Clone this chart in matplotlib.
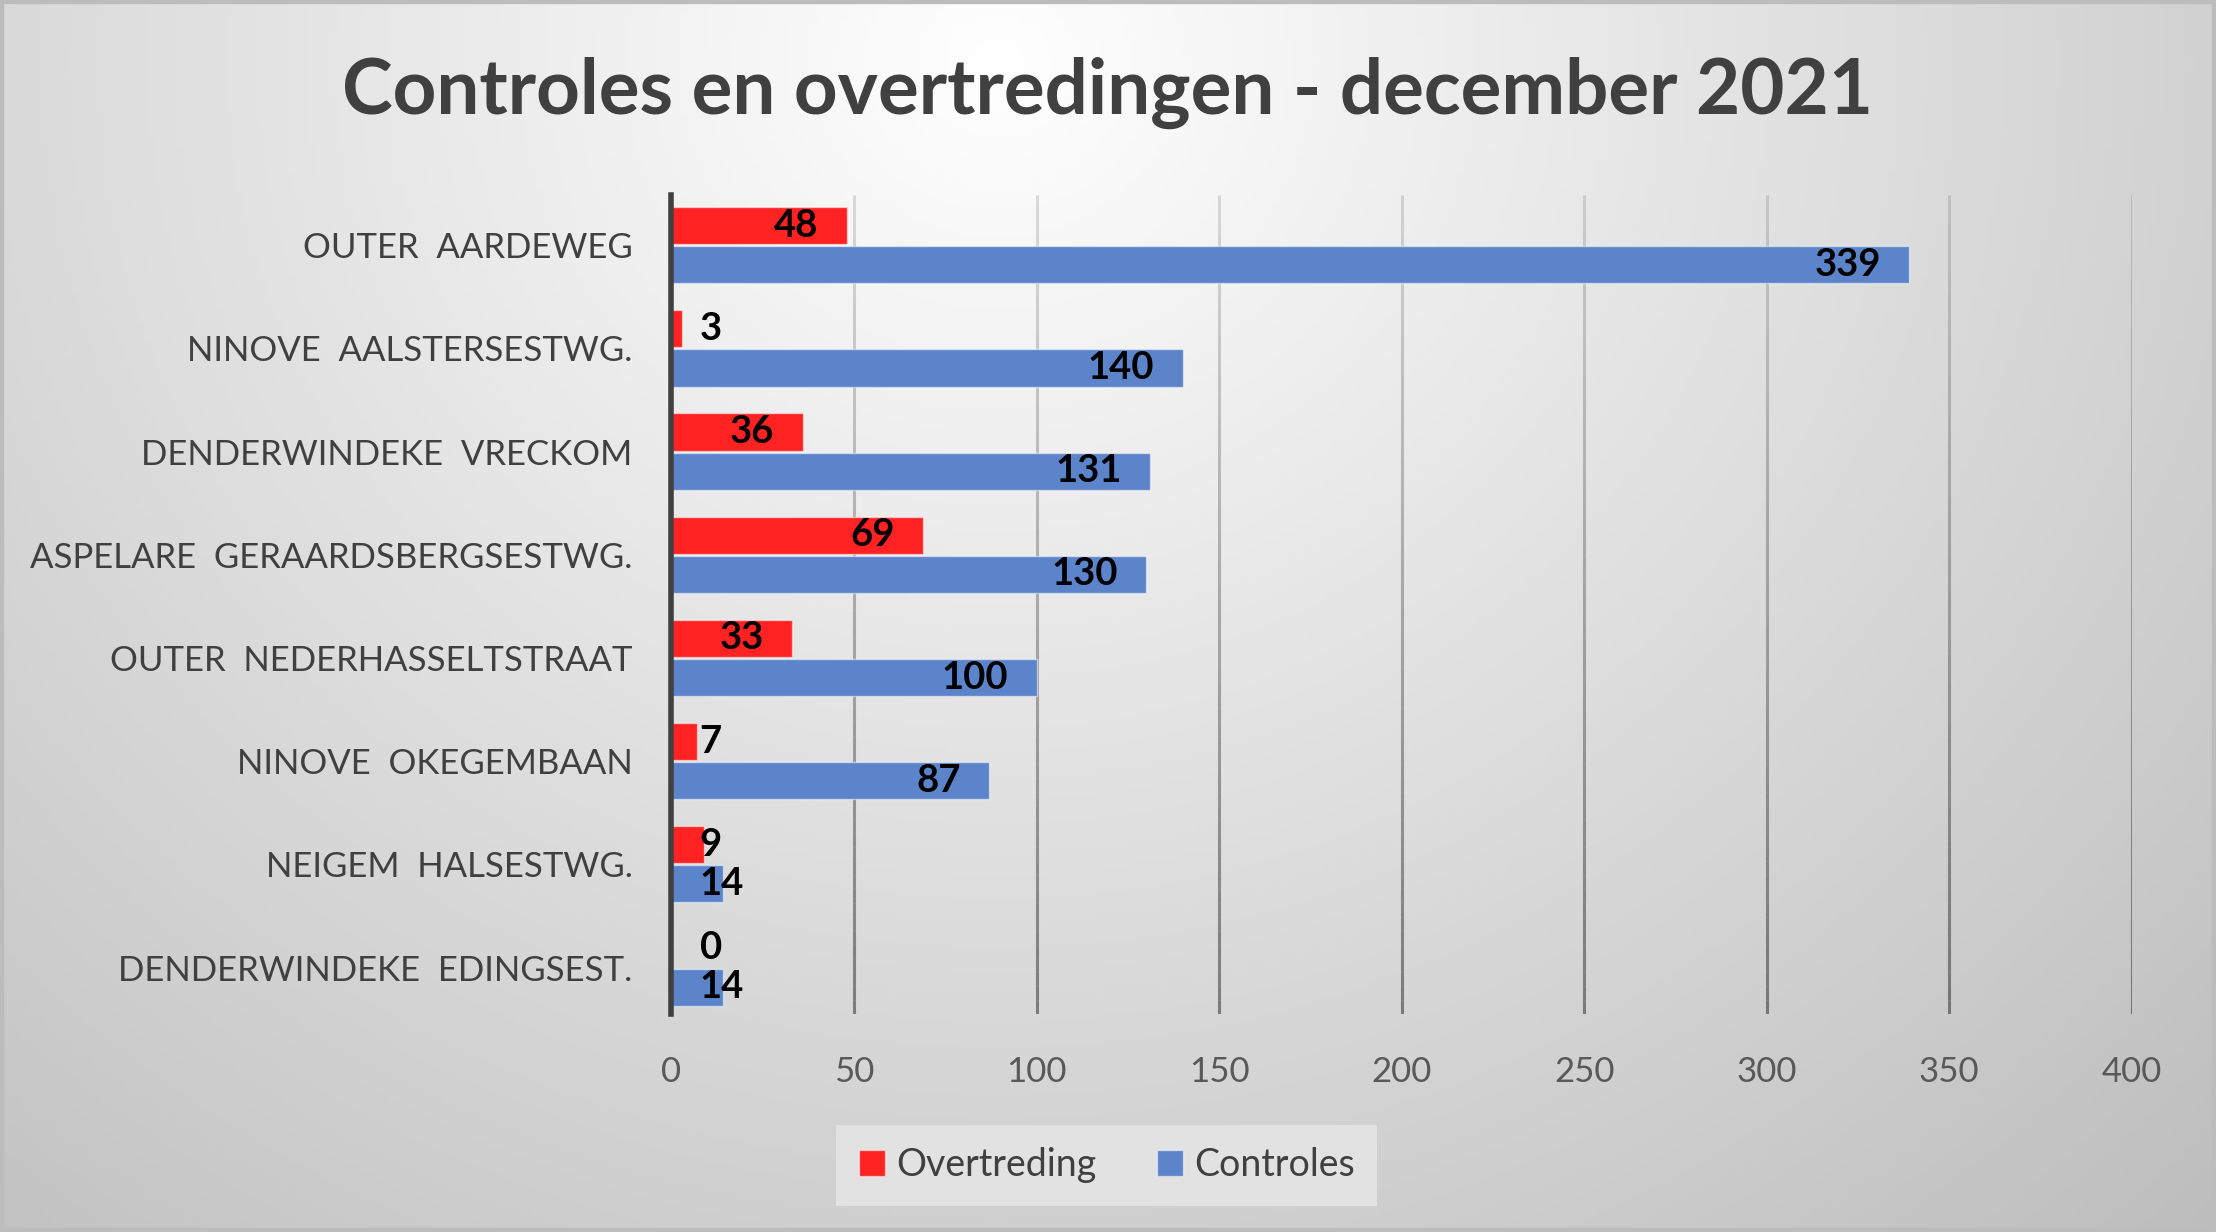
# Controles en overtredingen - december 2021

import numpy as np
import matplotlib
matplotlib.use('Agg')
import matplotlib.pyplot as plt
from matplotlib.collections import LineCollection
from matplotlib.patches import Rectangle

plt.rcParams['font.family'] = ['Lato', 'DejaVu Sans']

# data
locaties = ['OUTER  AARDEWEG', 'NINOVE  AALSTERSESTWG.', 'DENDERWINDEKE  VRECKOM',
            'ASPELARE  GERAARDSBERGSESTWG.', 'OUTER  NEDERHASSELTSTRAAT',
            'NINOVE  OKEGEMBAAN', 'NEIGEM  HALSESTWG.', 'DENDERWINDEKE  EDINGSEST.']
overtreding = [48, 3, 36, 69, 33, 7, 9, 0]
controles = [339, 140, 131, 130, 100, 87, 14, 14]
ticks = [0, 50, 100, 150, 200, 250, 300, 350, 400]

red = '#fe2222'
blue = '#5b84cb'
txt = '#404040'

fig = plt.figure(figsize=(22.16, 12.32), dpi=100)

# background gradient (light top centre, grey edges)
bg = fig.add_axes([0, 0, 1, 1], zorder=-10)
xx, yy = np.meshgrid(np.linspace(0, 1, 400), np.linspace(0, 1, 300))
d = np.sqrt(((xx - 0.45) / 0.6) ** 2 + ((yy - 0.05) / 1.0) ** 2)
g = np.clip(255 - 50 * d, 185, 255) / 255
bg.imshow(np.dstack([g, g, g]), extent=[0, 1, 1, 0], aspect='auto')
bg.set_xlim(0, 1)
bg.set_ylim(1, 0)
bg.axis('off')
bg.add_patch(Rectangle((0, 0), 1, 1, fill=False, edgecolor='#bcbcbc', linewidth=6,
                       transform=bg.transAxes))

ax = fig.add_axes([0.303, 0.177, 0.659, 0.665])
ax.set_facecolor('none')

y = np.arange(len(locaties))
h = 0.36
ax.barh(y - 0.19, overtreding, height=h, color=red, edgecolor=(1, 1, 1, 0.5),
        linewidth=1, label='Overtreding', zorder=3)
ax.barh(y + 0.19, controles, height=h, color=blue, edgecolor=(1, 1, 1, 0.5),
        linewidth=1, label='Controles', zorder=3)

ytop, ybot = -0.49, len(locaties) - 0.55
ax.set_xlim(0, 400)
ax.set_ylim(ybot, ytop)

# gridlines fading towards the top
for t in ticks[1:]:
    ys = np.linspace(ytop, ybot, 60)
    segs = [[(t, ys[i]), (t, ys[i + 1])] for i in range(len(ys) - 1)]
    alphas = np.linspace(0.12, 0.42, len(segs))
    cols = [(0, 0, 0, a) for a in alphas]
    ax.add_collection(LineCollection(segs, colors=cols, linewidths=2.2, zorder=1))

# data labels
pad = 7.75
for vals, off in [(overtreding, -0.19), (controles, 0.19)]:
    for i, v in enumerate(vals):
        if v < 26:
            ax.text(pad, i + off, str(v), ha='left', va='center', fontsize=27.5,
                    fontweight='bold', color='black', zorder=5)
        else:
            ax.text(v - pad, i + off, str(v), ha='right', va='center', fontsize=27.5,
                    fontweight='bold', color='black', zorder=5)

for s in ['top', 'right', 'bottom']:
    ax.spines[s].set_visible(False)
ax.spines['left'].set_color(txt)
ax.spines['left'].set_linewidth(4)
ax.spines['left'].set_zorder(6)

ax.set_xticks(ticks)
ax.set_xticklabels([str(t) for t in ticks], fontsize=25, color='#595959')
ax.set_yticks(y)
ax.set_yticklabels(locaties, fontsize=25, color=txt)
ax.tick_params(axis='x', length=0, pad=30)
ax.tick_params(axis='y', length=0, pad=28)

fig.text(0.5, 0.925, 'Controles en overtredingen - december 2021', ha='center',
         va='center', fontsize=55, fontweight='bold', color=txt)

leg = fig.legend(loc='center', bbox_to_anchor=(0.4995, 0.054), ncol=2, frameon=True,
                 fontsize=27, handlelength=0.7, handleheight=0.7, handletextpad=0.3,
                 columnspacing=1.6, borderpad=0.6, fancybox=False)
leg.get_frame().set_facecolor('#e2e2e2')
leg.get_frame().set_edgecolor('none')
leg.get_frame().set_alpha(1)
for t in leg.get_texts():
    t.set_color(txt)

fig.savefig('out.png', dpi=100)
